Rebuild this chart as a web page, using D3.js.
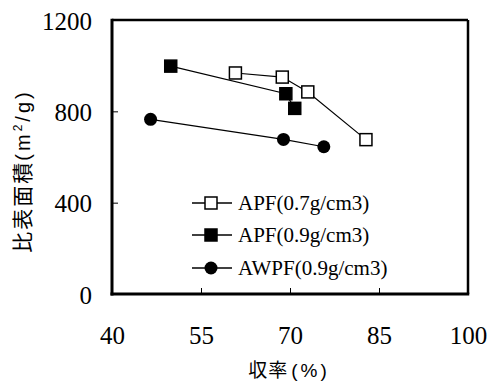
<!DOCTYPE html>
<html>
<head>
<meta charset="utf-8">
<script src="https://cdn.jsdelivr.net/npm/d3@7"></script>
<style>
  body { margin: 0; background: #fff; }
  svg { display: block; }
</style>
</head>
<body>
<div id="chart"></div>
<script>
// values
var seriesNames = ["APF(0.7g/cm3)", "APF(0.9g/cm3)", "AWPF(0.9g/cm3)"];
var apf07X = [60.8, 68.7, 73.0, 82.8];
var apf07Y = [968, 950, 885, 676];
var apf09X = [49.9, 69.3, 70.8];
var apf09Y = [998, 877, 813];
var awpfX = [46.5, 68.9, 75.7];
var awpfY = [765, 677, 645];
var xTicks = [40, 55, 70, 85, 100];
var yTicks = [0, 400, 800, 1200];

var svgWidth = 489, svgHeight = 383;
var margin = {top: 20, right: 21, bottom: 89, left: 112};
var width = svgWidth - margin.left - margin.right;
var height = svgHeight - margin.top - margin.bottom;

var svg = d3.select("#chart").append("svg")
  .attr("width", svgWidth)
  .attr("height", svgHeight);

var chartGroup = svg.append("g")
  .attr("transform", `translate(${margin.left}, ${margin.top})`);

var xScale = d3.scaleLinear().domain([40, 100]).range([0, width]);
var yScale = d3.scaleLinear().domain([0, 1200]).range([height, 0]);

// axes with inward ticks
var bottomAxis = d3.axisBottom(xScale).tickValues(xTicks).tickFormat(d3.format("d"))
  .tickSizeInner(-6).tickSizeOuter(0).tickPadding(32);
var leftAxis = d3.axisLeft(yScale).tickValues(yTicks).tickFormat(d3.format("d"))
  .tickSizeInner(-6).tickSizeOuter(0).tickPadding(20);

var xAxis = chartGroup.append("g")
  .attr("transform", `translate(0, ${height})`)
  .call(bottomAxis);
var yAxis = chartGroup.append("g").call(leftAxis);

[xAxis, yAxis].forEach(function(ax) {
  ax.select(".domain").remove();
  ax.attr("font-family", "'Liberation Serif', 'Times New Roman', serif").attr("font-size", 25);
  ax.selectAll(".tick line").attr("stroke", "#000").attr("stroke-width", 1);
  ax.selectAll(".tick text").attr("fill", "#000");
});
yAxis.selectAll(".tick text").attr("dy", "0.36em");

// frame
chartGroup.append("line").attr("x1", 0).attr("x2", width).attr("y1", 0).attr("y2", 0)
  .attr("stroke", "#000").attr("stroke-width", 2.5);
chartGroup.append("line").attr("x1", width).attr("x2", width).attr("y1", 0).attr("y2", height)
  .attr("stroke", "#000").attr("stroke-width", 2.5);
chartGroup.append("line").attr("x1", 0).attr("x2", 0).attr("y1", -1.25).attr("y2", height + 1.5)
  .attr("stroke", "#000").attr("stroke-width", 3);
chartGroup.append("line").attr("x1", -1.5).attr("x2", width + 1.25).attr("y1", height).attr("y2", height)
  .attr("stroke", "#000").attr("stroke-width", 3);

var series = [
  {name: seriesNames[0], xs: apf07X, ys: apf07Y, shape: "square", fill: "#fff"},
  {name: seriesNames[1], xs: apf09X, ys: apf09Y, shape: "square", fill: "#000"},
  {name: seriesNames[2], xs: awpfX, ys: awpfY, shape: "circle", fill: "#000"}
];

var line = d3.line().x(d => xScale(d[0])).y(d => yScale(d[1]));

function drawMarker(g, s, cx, cy) {
  if (s.shape === "square") {
    g.append("rect")
      .attr("x", cx - 6).attr("y", cy - 6)
      .attr("width", 12).attr("height", 12)
      .attr("fill", s.fill).attr("stroke", "#000").attr("stroke-width", 1.5);
  } else {
    g.append("circle")
      .attr("cx", cx).attr("cy", cy).attr("r", 6.5)
      .attr("fill", s.fill);
  }
}

series.forEach(function(s) {
  var pts = s.xs.map((x, i) => [x, s.ys[i]]);
  chartGroup.append("path")
    .datum(pts)
    .attr("d", line)
    .attr("fill", "none")
    .attr("stroke", "#000")
    .attr("stroke-width", 1.2);
  pts.forEach(function(p) {
    drawMarker(chartGroup, s, xScale(p[0]), yScale(p[1]));
  });
});

// legend
var legendY = [203, 235, 268];
var legend = svg.append("g");
series.forEach(function(s, i) {
  var y = legendY[i];
  legend.append("line").attr("x1", 192).attr("x2", 232).attr("y1", y).attr("y2", y)
    .attr("stroke", "#000").attr("stroke-width", 1.5);
  drawMarker(legend, s, 211, y);
  legend.append("text")
    .attr("x", 238).attr("y", y).attr("dy", "0.35em")
    .attr("font-family", "'Liberation Serif', 'Times New Roman', serif")
    .attr("font-size", 21)
    .text(s.name);
});

// axis titles
var cjk = "'Noto Sans CJK JP', 'Noto Sans', sans-serif";
var latin = "'Liberation Sans Narrow', 'Liberation Sans', Arial, sans-serif";

var xTitle = svg.append("text")
  .attr("x", margin.left + width / 2 - 1)
  .attr("y", 377)
  .attr("text-anchor", "middle")
  .attr("font-size", 19);
xTitle.append("tspan").attr("font-family", cjk).attr("letter-spacing", 1).text("収率");
xTitle.append("tspan").attr("font-family", latin).attr("font-size", 19)
  .attr("dx", 3).attr("letter-spacing", 3).text("(%)");

var yTitle = svg.append("text")
  .attr("transform", "translate(30, 171) rotate(-90)")
  .attr("text-anchor", "middle")
  .attr("font-size", 21);
yTitle.append("tspan").attr("font-family", cjk).attr("letter-spacing", 2).text("比表面積");
yTitle.append("tspan").attr("font-family", latin).attr("font-size", 20).attr("letter-spacing", 3).text("(m");
yTitle.append("tspan").attr("font-family", latin).attr("font-size", 12).attr("dy", -8).attr("letter-spacing", 3).text("2");
yTitle.append("tspan").attr("font-family", latin).attr("font-size", 20).attr("dy", 8).attr("letter-spacing", 3).text("/g)");
</script>
</body>
</html>
